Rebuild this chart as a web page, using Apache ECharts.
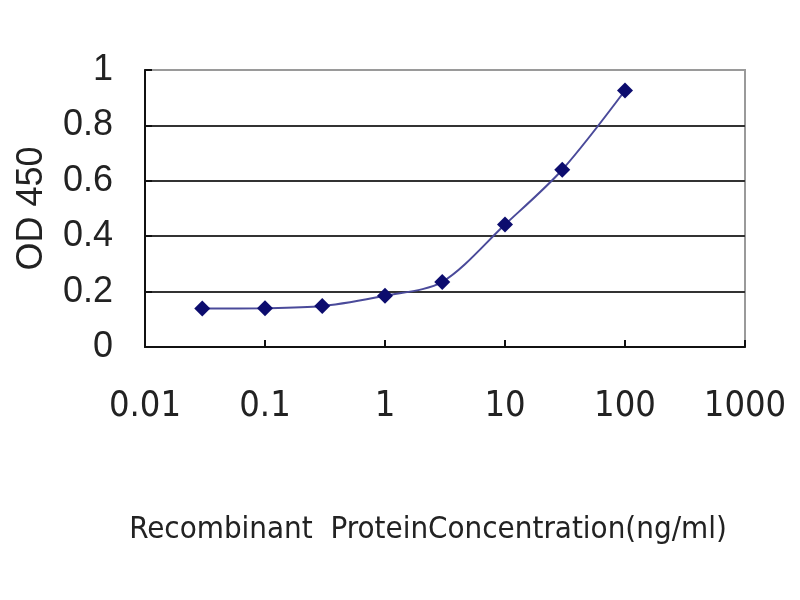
<!DOCTYPE html>
<html>
<head>
<meta charset="utf-8">
<script src="https://cdn.jsdelivr.net/npm/echarts@6/dist/echarts.min.js"></script>
<style>html,body{margin:0;padding:0;background:#fff}#c{width:800px;height:600px}</style>
</head>
<body>
<div id="c"></div>
<script>
const concentrations = [0.03, 0.1, 0.3, 1, 3, 10, 30, 100];
const odValues = [0.139, 0.140, 0.148, 0.185, 0.235, 0.442, 0.640, 0.926];
const xTickLabels = {0.01: '0.01', 0.1: '0.1', 1: '1', 10: '10', 100: '100', 1000: '1000'};
const xAxisTitle = 'Recombinant  ProteinConcentration(ng/ml)';
const yAxisTitle = 'OD 450';

const points = concentrations.map((c, i) => [c, odValues[i]]);
const chart = echarts.init(document.getElementById('c'));
const baseFont = 'Liberation Sans, Arial, sans-serif';
const narrowFont = 'Liberation Sans Narrow, Arial Narrow, DejaVu Sans Condensed, Liberation Sans, sans-serif';
chart.setOption({
  backgroundColor: '#fff',
  animation: false,
  title: {
    text: xAxisTitle, left: 423, top: 509, textAlign: 'center',
    textStyle: {fontSize: 31, fontWeight: 'normal', color: '#222', fontFamily: narrowFont}
  },
  grid: {left: 145, right: 55, top: 70, bottom: 253, show: true, borderColor: '#9a9a9a', borderWidth: 2},
  xAxis: {
    type: 'log', logBase: 10, min: 0.01, max: 1000,
    axisLine: {lineStyle: {color: '#111', width: 2}},
    axisTick: {show: true, inside: true, length: 7, lineStyle: {color: '#111', width: 2}},
    minorTick: {show: false},
    splitLine: {show: false},
    axisLabel: {fontSize: 36, color: '#222', margin: 42, fontFamily: narrowFont,
      formatter: v => {
        const key = Number(v.toPrecision(3));
        return xTickLabels[key] !== undefined ? xTickLabels[key] : String(key);
      }}
  },
  yAxis: {
    type: 'value', min: 0, max: 1, interval: 0.2,
    name: yAxisTitle, nameLocation: 'middle', nameGap: 95,
    nameTextStyle: {fontSize: 36, color: '#222', fontFamily: baseFont},
    axisLine: {show: true, lineStyle: {color: '#111', width: 2}},
    axisTick: {show: true, inside: true, length: 7, lineStyle: {color: '#111', width: 2}},
    splitLine: {show: true, lineStyle: {color: ['#333', '#333', '#333', '#333', '#333', '#9a9a9a'], width: 2}},
    axisLabel: {fontSize: 36, color: '#222', margin: 32, fontFamily: baseFont,
      formatter: v => String(Math.round(v * 10) / 10)}
  },
  series: [{
    type: 'line',
    data: points,
    smooth: 0.3,
    symbol: 'diamond',
    symbolSize: 16,
    lineStyle: {color: '#4a4a9a', width: 2},
    itemStyle: {color: '#0c0c6e'}
  }]
});
</script>
</body>
</html>
